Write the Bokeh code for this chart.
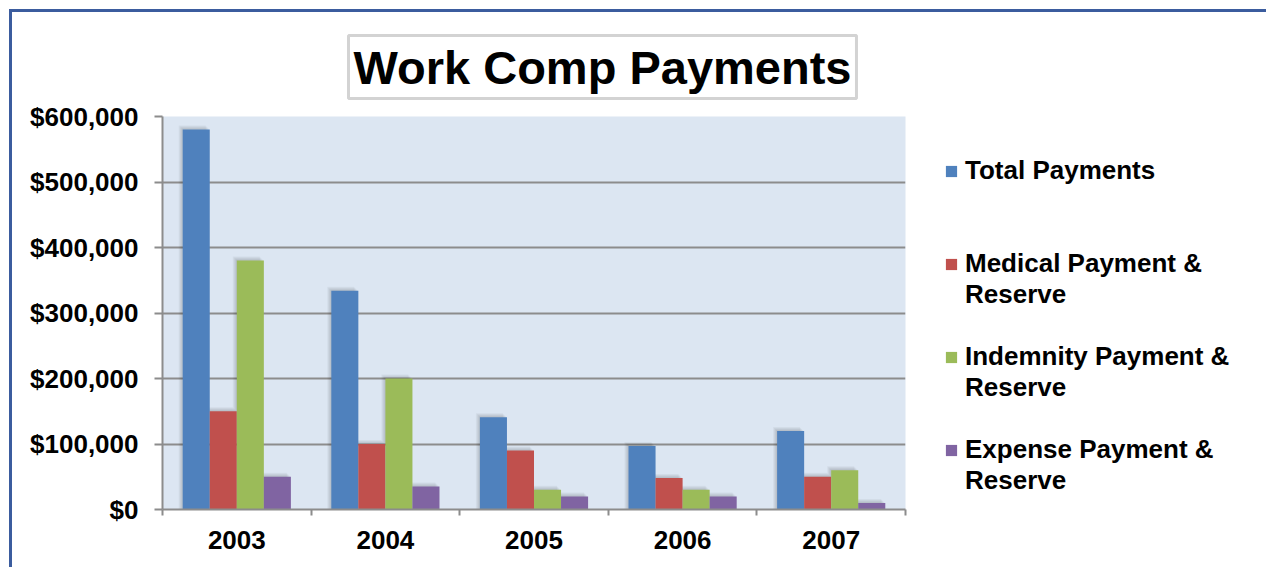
from bokeh.plotting import figure
from bokeh.models import (Range1d, FixedTicker, NumeralTickFormatter, Legend,
                          LegendItem, Title)
from bokeh.embed import file_html
from bokeh.resources import INLINE

# ---------------- data ----------------
years = ["2003", "2004", "2005", "2006", "2007"]
total_payments = [580000, 334000, 141000, 97000, 120000]
medical_payment = [150000, 100000, 90000, 48000, 50000]
indemnity_payment = [380000, 200000, 30000, 30000, 60000]
expense_payment = [50000, 35000, 20000, 20000, 10000]
series_labels = [["Total Payments"],
                 ["Medical Payment &", "Reserve"],
                 ["Indemnity Payment &", "Reserve"],
                 ["Expense Payment &", "Reserve"]]
y_ticks = [0, 100000, 200000, 300000, 400000, 500000, 600000]
title_text = "Work Comp Payments"

# ---------------- style ----------------
colors = ["#4F81BD", "#C0504D", "#9BBB59", "#8064A2"]
FONT = "Liberation Sans"
GRID = "#8C8C8C"
FW, FH = 743, 393
FL, FT, FB = 150, 104, 58

p = figure(frame_width=FW, frame_height=FH, output_backend="svg",
           toolbar_location=None,
           x_range=Range1d(0, len(years)), y_range=Range1d(0, y_ticks[-1]),
           min_border_left=FL, min_border_right=0, min_border_top=FT,
           min_border_bottom=FB, background_fill_color="#DCE6F2",
           border_fill_color="white", outline_line_color=None)
p.styles = {"margin-left": "9px", "margin-top": "9px",
            "border-top": "3px solid #3B5C9E", "border-left": "3px solid #3B5C9E",
            "border-right": "3px solid #3B5C9E"}

series = [total_payments, medical_payment, indemnity_payment, expense_payment]
bw = 0.182
offsets = [-1.5, -0.5, 0.5, 1.5]
centers = [i + 0.5 for i in range(len(years))]

px_x = len(years) / FW
px_y = y_ticks[-1] / FH

# soft shadows (drawn first)
for vals, off in zip(series, offsets):
    xs = [c + off * bw for c in centers]
    for k in (1, 2, 3, 4):
        p.vbar(x=[x - k * px_x for x in xs], top=[v + k * px_y for v in vals],
               width=bw, bottom=0, fill_color="black", fill_alpha=0.045,
               line_color=None)

renderers = []
for vals, off, col in zip(series, offsets, colors):
    xs = [c + off * bw for c in centers]
    r = p.vbar(x=xs, top=vals, width=bw, bottom=0, fill_color=col,
               line_color=None)
    renderers.append(r)

# invisible renderer used for legend rows that carry no swatch
blank = p.vbar(x=[], top=[], width=bw, fill_alpha=0.0, line_alpha=0.0)

# ---------------- axes ----------------
xa = p.xaxis[0]
xa.ticker = FixedTicker(ticks=centers, minor_ticks=list(range(len(years) + 1)))
xa.major_label_overrides = {c: y for c, y in zip(centers, years)}
xa.major_tick_out = 0
xa.major_tick_in = 0
xa.minor_tick_out = 6
xa.minor_tick_in = 0
xa.minor_tick_line_color = GRID
xa.minor_tick_line_width = 2
xa.axis_line_color = GRID
xa.axis_line_width = 2
xa.major_label_text_font = FONT
xa.major_label_text_font_style = "bold"
xa.major_label_text_font_size = "26px"
xa.major_label_text_color = "black"
xa.major_label_standoff = 15

ya = p.yaxis[0]
ya.ticker = FixedTicker(ticks=y_ticks)
ya.formatter = NumeralTickFormatter(format="$0,0")
ya.major_tick_out = 8
ya.major_tick_in = 0
ya.minor_tick_out = 0
ya.minor_tick_in = 0
ya.major_tick_line_color = GRID
ya.major_tick_line_width = 2
ya.axis_line_color = GRID
ya.axis_line_width = 2
ya.major_label_text_font = FONT
ya.major_label_text_font_style = "bold"
ya.major_label_text_font_size = "26px"
ya.major_label_text_color = "black"
ya.major_label_standoff = 16

p.xgrid.grid_line_color = None
p.ygrid.grid_line_color = GRID
p.ygrid.grid_line_width = 2

# ---------------- title ----------------
t = Title(text=title_text, align="left", offset=186, standoff=36,
          text_font=FONT, text_font_style="bold", text_font_size="47px",
          text_color="black", background_fill_color="white",
          border_line_color="#C8C8C8", border_line_width=3,
          border_line_alpha=0.8, padding=5)
p.add_layout(t, "above")

# ---------------- legend ----------------
# rows: each series' lines, separated by blank rows so the pitch matches
rows = []
gaps = [0, 2, 1, 1]
for gap, lines, r in zip(gaps, series_labels, renderers):
    for _ in range(gap):
        rows.append(LegendItem(label=" ", renderers=[blank]))
    rows.append(LegendItem(label=lines[0], renderers=[r]))
    for extra in lines[1:]:
        rows.append(LegendItem(label=extra, renderers=[blank]))

lg = Legend(items=rows, location="top_left", orientation="vertical",
            border_line_color=None, background_fill_alpha=0.0,
            padding=0, margin=39, spacing=0,
            glyph_width=14, glyph_height=14, label_standoff=7,
            label_height=31,
            label_text_font=FONT, label_text_font_style="bold",
            label_text_font_size="26px", label_text_color="black",
            label_text_line_height=1.2)
p.add_layout(lg, "right")

open("out.html", "w").write(file_html(p, INLINE))
